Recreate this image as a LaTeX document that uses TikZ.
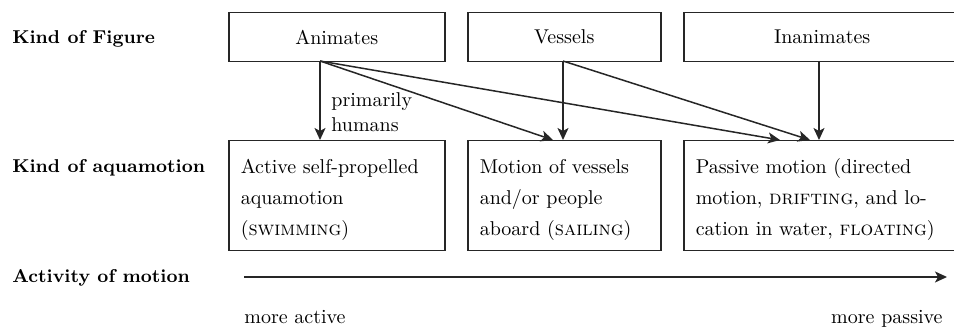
\documentclass[tikz,border=0pt]{standalone}
\usetikzlibrary{arrows.meta}
\newcommand{\topstrut}{\rule{0pt}{11.5pt}}
\begin{document}
\begin{tikzpicture}[x=0.5pt,y=-0.5pt,
  every node/.style={font=\fontsize{10}{15.5}\selectfont, text=black},
  topbox/.style={draw=black!85, line width=0.75pt, minimum height=24.5pt, inner sep=0pt, anchor=north west},
  lowbox/.style={draw=black!85, line width=0.75pt, minimum height=55pt, align=left, inner xsep=6pt, inner ysep=0pt, anchor=north west},
  rowlabel/.style={font=\fontsize{9.3}{11}\selectfont\bfseries, anchor=base west, inner sep=0pt},
  plain/.style={inner sep=0pt},
  conn/.style={draw=black!85, line width=0.75pt, -{Stealth[length=6pt,width=5.5pt,inset=1.5pt]}},
]
\useasboundingbox (0,0) rectangle (954,331);

% row labels
\node[rowlabel] (lfig) at (12,44) {Kind of Figure};
\node[rowlabel] (laq) at (12,173) {Kind of aquamotion};
\node[rowlabel] (lact) at (12,283) {Activity of motion};

% figure boxes
\node[topbox, minimum width=108pt] (ani) at (228,12) {Animates};
\node[topbox, minimum width=96.5pt] (ves) at (467,12) {Vessels};
\node[topbox, minimum width=138.5pt] (ina) at (683,12) {Inanimates};

% aquamotion boxes
\node[lowbox, text width=96pt] (act) at (228,140) {\topstrut Active self-propelled\\aquamotion\\(\textsc{swimming})};
\node[lowbox, text width=84.5pt] (mov) at (467,140) {\topstrut Motion of vessels\\and/or people\\aboard (\textsc{sailing})};
\node[lowbox, text width=126.5pt] (pas) at (683,140) {\topstrut Passive motion (directed\\motion, \textsc{drifting}, and lo-\\cation in water, \textsc{floating})};

% connector ends
\coordinate (aniout) at (320,61);
\coordinate (vesout) at (563,61);
\coordinate (inaout) at (819,61);
\coordinate (actin) at (320,140);
\coordinate (movin1) at (553,140);
\coordinate (movin2) at (563,140);
\coordinate (pasin1) at (780,140);
\coordinate (pasin2) at (810,140);
\coordinate (pasin3) at (819,140);

\draw[conn] (aniout) -- (actin);
\draw[conn] (aniout) -- (movin1);
\draw[conn] (aniout) -- (pasin1);
\draw[conn] (vesout) -- (movin2);
\draw[conn] (vesout) -- (pasin2);
\draw[conn] (inaout) -- (pasin3);

\node[plain, anchor=west, align=left, font=\fontsize{10}{12.5}\selectfont] (hum) at (331,112.5) {primarily\\humans};

% activity axis
\coordinate (axs) at (244,277);
\coordinate (axe) at (947,277);
\draw[conn] (axs) -- (axe);
\node[plain, anchor=base west] (mact) at (244,324) {more active};
\node[plain, anchor=base east] (mpas) at (943,324) {more passive};
\end{tikzpicture}
\end{document}
